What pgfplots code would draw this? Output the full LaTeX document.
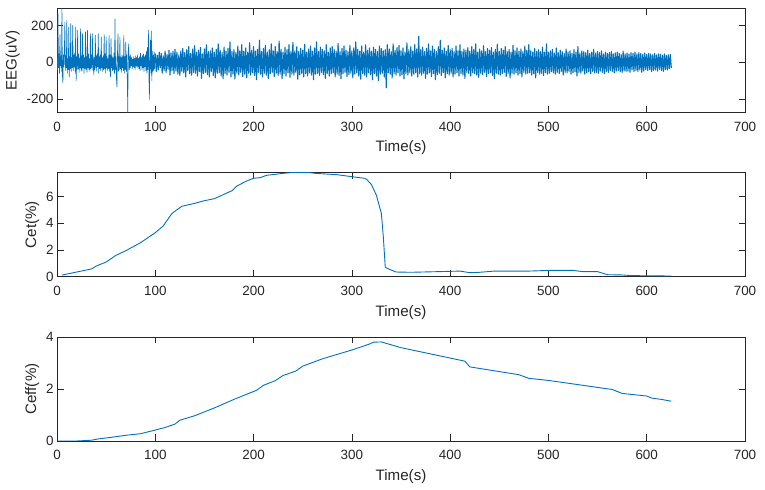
\documentclass[border=0pt]{standalone}
\usepackage{pgfplots}
\pgfplotsset{compat=1.18}
\usepackage{pgfplotstable}
\usepackage{fontspec}
\setmainfont{Liberation Sans}
\definecolor{mblue}{RGB}{0,114,189}
\definecolor{axgray}{RGB}{38,38,38}

% EEG, 0 to 99.5 s, step 0.5 s
\pgfplotstableread[header=false,row sep=\\]{
20\\ -40\\ 262\\ -30\\ 45\\ -60\\ 150\\ -20\\ 30\\ -50\\
293\\ -70\\ -113\\ 40\\ -25\\ 60\\ 218\\ -45\\ 35\\ -30\\
227\\ -60\\ 20\\ -40\\ 191\\ -80\\ 30\\ -35\\ 209\\ -50\\
25\\ -30\\ 200\\ -45\\ 40\\ -25\\ 50\\ -60\\ 191\\ -100\\
30\\ -40\\ 173\\ -35\\ 45\\ -55\\ 20\\ -30\\ 182\\ -50\\
35\\ -45\\ 155\\ -30\\ 40\\ -60\\ 25\\ -35\\ 164\\ -40\\
30\\ -55\\ 173\\ -30\\ 45\\ -40\\ 20\\ -50\\ 155\\ -35\\
40\\ -30\\ 155\\ -45\\ 30\\ -70\\ 25\\ -40\\ 146\\ -30\\
35\\ -50\\ 45\\ -25\\ 155\\ -60\\ 30\\ -35\\ 40\\ -45\\
137\\ -30\\ 25\\ -50\\ 35\\ -40\\ 150\\ -35\\ 45\\ -60\\
137\\ -30\\ 30\\ -45\\ 20\\ -35\\ 146\\ -50\\ 40\\ -80\\
128\\ -30\\ 35\\ -45\\ 25\\ -40\\ 50\\ -60\\ 235\\ -40\\
30\\ -90\\ -135\\ 40\\ 155\\ -50\\ 30\\ -40\\ 137\\ -35\\
25\\ -55\\ 40\\ -30\\ 35\\ -45\\ 146\\ -60\\ 30\\ -40\\
110\\ -50\\ 40\\ -80\\ -272\\ 60\\ 100\\ -40\\ 30\\ -30\\
40\\ -20\\ 25\\ -35\\ 15\\ -25\\ 30\\ -30\\ 20\\ -40\\
35\\ -20\\ 25\\ -30\\ 40\\ -25\\ 20\\ -35\\ 30\\ -45\\
50\\ -20\\ 25\\ -40\\ 35\\ -30\\ 45\\ -50\\ 30\\ -25\\
40\\ -45\\ 60\\ -60\\ 80\\ -40\\ 173\\ -70\\ -202\\ 50\\
120\\ -60\\ 170\\ -100\\ 60\\ -50\\ 40\\ -45\\ 55\\ -35\\
}\eegA

% EEG, 100 to 625 s, step 1 s
\pgfplotstableread[header=false,row sep=\\]{
45\\ -50\\ 38\\ -42\\ 55\\ -30\\ 48\\ -60\\ 35\\ -45\\
60\\ -55\\ 42\\ -38\\ 65\\ -70\\ 50\\ -45\\ 58\\ -62\\
70\\ -48\\ 55\\ -65\\ 40\\ -72\\ 62\\ -50\\ 75\\ -58\\
52\\ -80\\ 68\\ -45\\ 85\\ -62\\ 48\\ -70\\ 72\\ -55\\
90\\ -60\\ 55\\ -75\\ 65\\ -50\\ 80\\ -88\\ 45\\ -62\\
72\\ -55\\ 95\\ -68\\ 58\\ -80\\ 62\\ -50\\ 78\\ -72\\
55\\ -85\\ 70\\ -60\\ 100\\ -58\\ 65\\ -75\\ 52\\ -90\\
82\\ -62\\ 60\\ -70\\ 75\\ -55\\ 110\\ -80\\ 58\\ -65\\
68\\ -92\\ 55\\ -60\\ 88\\ -70\\ 62\\ -55\\ 95\\ -78\\
60\\ -65\\ 78\\ -85\\ 55\\ -60\\ 105\\ -70\\ 65\\ -58\\
85\\ -72\\ 60\\ -95\\ 70\\ -55\\ 120\\ -65\\ 58\\ -80\\
75\\ -60\\ 92\\ -70\\ 55\\ -88\\ 68\\ -62\\ 100\\ -55\\
62\\ -78\\ 85\\ -60\\ 58\\ -72\\ 115\\ -65\\ 70\\ -90\\
55\\ -62\\ 80\\ -75\\ 68\\ -58\\ 95\\ -82\\ 60\\ -65\\
108\\ -70\\ 62\\ -55\\ 85\\ -92\\ 58\\ -68\\ 75\\ -60\\
65\\ -80\\ 98\\ -62\\ 55\\ -75\\ 72\\ -58\\ 88\\ -70\\
60\\ -95\\ 78\\ -65\\ 110\\ -60\\ 58\\ -72\\ 82\\ -55\\
70\\ -68\\ 62\\ -88\\ 95\\ -60\\ 55\\ -75\\ 78\\ -62\\
85\\ -58\\ 68\\ -80\\ 60\\ -65\\ 102\\ -72\\ 58\\ -90\\
75\\ -62\\ 88\\ -55\\ 65\\ -78\\ 58\\ -68\\ 92\\ -60\\
62\\ -85\\ 78\\ -65\\ 110\\ -58\\ 70\\ -75\\ 60\\ -92\\
88\\ -62\\ 55\\ -70\\ 95\\ -80\\ 65\\ -58\\ 78\\ -68\\
60\\ -95\\ 82\\ -62\\ 70\\ -75\\ 58\\ -100\\ 88\\ -65\\
75\\ -60\\ 62\\ -80\\ 68\\ -139\\ 95\\ -58\\ 72\\ -65\\
58\\ -85\\ 100\\ -62\\ 65\\ -70\\ 80\\ -58\\ 92\\ -75\\
62\\ -68\\ 78\\ -90\\ 55\\ -62\\ 105\\ -70\\ 68\\ -58\\
85\\ -75\\ 60\\ -65\\ 95\\ -58\\ 72\\ -80\\ 141\\ -62\\
68\\ -70\\ 82\\ -60\\ 58\\ -88\\ 75\\ -65\\ 100\\ -58\\
62\\ -78\\ 88\\ -62\\ 70\\ -95\\ 58\\ -68\\ 85\\ -60\\
120\\ -72\\ 65\\ -58\\ 78\\ -85\\ 60\\ -62\\ 92\\ -70\\
68\\ -60\\ 75\\ -80\\ 58\\ -65\\ 88\\ -58\\ 62\\ -75\\
95\\ -62\\ 58\\ -70\\ 72\\ -88\\ 65\\ -55\\ 80\\ -62\\
60\\ -75\\ 85\\ -58\\ 68\\ -62\\ 100\\ -70\\ 55\\ -82\\
72\\ -60\\ 62\\ -68\\ 90\\ -55\\ 58\\ -78\\ 75\\ -62\\
65\\ -58\\ 80\\ -72\\ 55\\ -90\\ 70\\ -60\\ 98\\ -65\\
58\\ -70\\ 75\\ -62\\ 65\\ -55\\ 85\\ -78\\ 60\\ -62\\
70\\ -85\\ 55\\ -60\\ 92\\ -65\\ 62\\ -58\\ 78\\ -70\\
60\\ -62\\ 72\\ -80\\ 58\\ -55\\ 88\\ -65\\ 65\\ -60\\
95\\ -58\\ 62\\ -70\\ 55\\ -62\\ 75\\ -85\\ 60\\ -55\\
68\\ -65\\ 58\\ -60\\ 82\\ -72\\ 55\\ -58\\ 100\\ -65\\
55\\ -60\\ 62\\ -52\\ 70\\ -58\\ 50\\ -65\\ 78\\ -55\\
52\\ -62\\ 65\\ -50\\ 58\\ -70\\ 48\\ -55\\ 72\\ -58\\
55\\ -50\\ 62\\ -65\\ 48\\ -58\\ 68\\ -52\\ 55\\ -75\\
85\\ -55\\ 50\\ -60\\ 62\\ -48\\ 58\\ -65\\ 52\\ -58\\
65\\ -52\\ 48\\ -62\\ 55\\ -50\\ 70\\ -58\\ 50\\ -55\\
58\\ -60\\ 52\\ -48\\ 62\\ -55\\ 45\\ -62\\ 55\\ -50\\
48\\ -55\\ 52\\ -45\\ 58\\ -50\\ 45\\ -58\\ 50\\ -48\\
55\\ -45\\ 48\\ -52\\ 42\\ -55\\ 60\\ -48\\ 45\\ -50\\
50\\ -48\\ 45\\ -55\\ 52\\ -42\\ 48\\ -50\\ 55\\ -45\\
45\\ -50\\ 52\\ -42\\ 48\\ -55\\ 42\\ -48\\ 50\\ -40\\
42\\ -45\\ 48\\ -40\\ 45\\ -52\\ 40\\ -45\\ 48\\ -42\\
40\\ -48\\ 45\\ -38\\ 42\\ -45\\ 38\\ -50\\ 45\\ -40\\
38\\ -42\\ 40\\ -35\\ 42\\ -30\\
}\eegB

\pgfplotstableread{
t v
5 0.12
35 0.58
40 0.8
50 1.1
60 1.6
70 1.95
85 2.55
100 3.3
108 3.8
117 4.75
127 5.28
140 5.5
150 5.7
160 5.85
170 6.18
178 6.45
183 6.8
193 7.18
200 7.38
207 7.43
213 7.6
230 7.75
240 7.82
255 7.82
263 7.75
285 7.65
300 7.5
313 7.38
315 7.3
320 6.9
325 6.1
330 4.75
332 3.0
334 0.7
340 0.5
345 0.35
360 0.33
400 0.4
410 0.42
420 0.3
430 0.33
445 0.42
480 0.42
500 0.47
525 0.47
535 0.38
550 0.38
560 0.15
575 0.13
585 0.08
625 0.05
}\cet

\pgfplotstableread{
t v
0 0.0
20 0.0
35 0.03
42 0.08
55 0.14
70 0.22
85 0.28
100 0.42
110 0.52
120 0.65
125 0.8
140 0.97
160 1.27
180 1.6
203 1.95
210 2.14
222 2.32
230 2.52
243 2.69
250 2.88
270 3.16
300 3.5
318 3.73
322 3.8
330 3.81
350 3.59
380 3.35
415 3.07
420 2.85
470 2.55
480 2.41
500 2.33
565 1.98
575 1.83
600 1.73
605 1.65
615 1.6
625 1.53
}\ceff

\pgfplotsset{myax/.style={
  scale only axis, width=688bp, height=104bp,
  anchor=north west,
  xmin=0, xmax=700, xtick={0,100,...,700},
  tick align=inside, major tick length=6.5bp,
  axis line style={axgray, line width=0.6bp},
  every tick/.style={axgray, line width=0.6bp},
  tick label style={font=\fontsize{13.5}{15}\selectfont, text=axgray},
  xticklabel style={anchor=base, yshift=-19bp},
  label style={font=\fontsize{15.2}{17}\selectfont, text=axgray},
  xlabel style={at={(axis description cs:0.5,0)}, anchor=base, yshift=-39.5bp},
  /pgf/number format/assume math mode=true,
  scaled ticks=false,
  xlabel={Time(s)},
}}

\begin{document}
\begin{tikzpicture}
\path[use as bounding box] (0,0) rectangle (765bp,490bp);
\begin{axis}[myax, at={(57bp,481.7bp)},
  ymin=-272, ymax=293, ytick={-200,0,200}, ylabel={EEG(uV)}]
\addplot[mblue, line width=0.6bp, line join=round, line cap=round] table[x expr=\coordindex*0.5, y index=0] {\eegA};
\addplot[mblue, line width=1.1bp, line join=round, line cap=round] table[x expr=100+\coordindex, y index=0] {\eegB};
\end{axis}
\begin{axis}[myax, at={(57bp,317.3bp)},
  ymin=0, ymax=7.8, ytick={0,2,4,6}, ylabel={Cet(\%)}]
\addplot[mblue, line width=0.9bp] table[x=t, y=v] {\cet};
\end{axis}
\begin{axis}[myax, at={(57bp,153bp)},
  ymin=0, ymax=4, ytick={0,2,4}, ylabel={Ceff(\%)}]
\addplot[mblue, line width=0.9bp] table[x=t, y=v] {\ceff};
\end{axis}
\end{tikzpicture}
\end{document}
